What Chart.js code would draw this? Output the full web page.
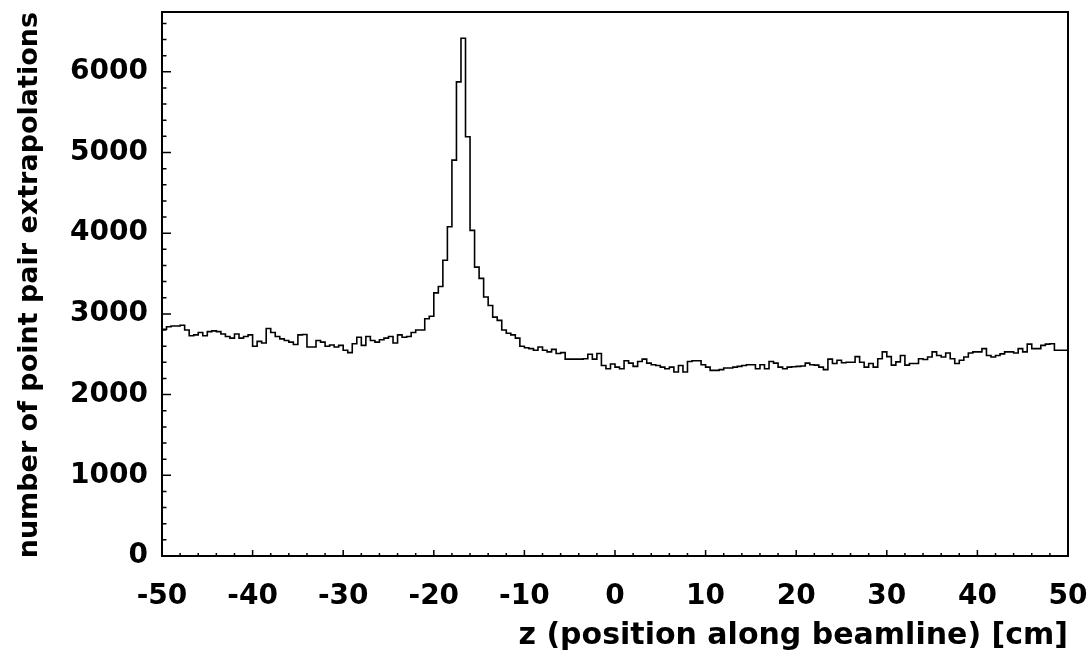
<!DOCTYPE html>
<html>
<head>
<meta charset="utf-8">
<script src="https://cdn.jsdelivr.net/npm/chart.js@4.4.1/dist/chart.umd.min.js"></script>
<style>
  html, body { margin: 0; padding: 0; background: #fff; }
  #wrap { width: 1089px; height: 654px; position: relative; }
</style>
</head>
<body>
<div id="wrap"><canvas id="histo"></canvas></div>
<script>
// z histogram, 200 bins of 0.5 cm from -50 to 50
var xMin = -50;
var xMax = 50;
var binWidth = 0.5;
var yMax = 6741;

var counts = [
    2810, 2840, 2850, 2850, 2860, 2800, 2730, 2740, 2770, 2730,
    2780, 2790, 2780, 2750, 2720, 2700, 2750, 2700, 2720, 2740,
    2600, 2660, 2640, 2820, 2770, 2720, 2690, 2670, 2650, 2620,
    2740, 2745, 2590, 2590, 2670, 2650, 2600, 2615, 2590, 2610,
    2550, 2520, 2630, 2710, 2610, 2720, 2670, 2650, 2680, 2700,
    2720, 2640, 2740, 2710, 2720, 2770, 2800, 2800, 2940, 2970,
    3260, 3340, 3665, 4080, 4905, 5875, 6415, 5195, 4035, 3580,
    3440, 3210, 3105, 2960, 2920, 2800, 2760, 2740, 2700, 2600,
    2580, 2570, 2550, 2590, 2550, 2530, 2560, 2510, 2520, 2440,
    2440, 2440, 2440, 2445, 2500, 2440, 2510, 2360, 2320, 2380,
    2340, 2320, 2420, 2390, 2350, 2410, 2440, 2390, 2370, 2360,
    2340, 2320, 2340, 2280, 2360, 2280, 2410, 2420, 2420, 2370,
    2340, 2300, 2300, 2310, 2330, 2330, 2340, 2350, 2360, 2370,
    2370, 2320, 2370, 2320, 2410, 2390, 2340, 2320, 2340, 2345,
    2350, 2355, 2390, 2370, 2365, 2340, 2310, 2440, 2385, 2425,
    2395, 2400, 2400, 2470, 2400, 2340, 2385, 2340, 2445, 2530,
    2470, 2365, 2405, 2485, 2365, 2385, 2385, 2445, 2435, 2465,
    2530, 2485, 2465, 2515, 2445, 2385, 2425, 2465, 2515, 2530,
    2530, 2570, 2485, 2465, 2485, 2505, 2530, 2530, 2515, 2570,
    2530, 2625, 2570, 2570, 2610, 2625, 2630, 2550, 2550, 2550
];

var xTicks = [-50, -40, -30, -20, -10, 0, 10, 20, 30, 40, 50];
var yTicks = [0, 1000, 2000, 3000, 4000, 5000, 6000];
var xMinorStep = 2;
var yMinorStep = 200;

var xTitle = 'z (position along beamline) [cm]';
var yTitle = 'number of point pair extrapolations';

// step outline: one point per lower bin edge, plus the last upper edge
var points = [];
for (var i = 0; i < counts.length; i++) {
    points.push({x: xMin + i * binWidth, y: counts[i]});
}
points.push({x: xMax, y: counts[counts.length - 1]});

var family = '"DejaVu Sans", sans-serif';
var tickFont = {family: family, weight: 'bold', size: 28};

// ROOT style frame with inside ticks
var frameTicks = {
    id: 'frameTicks',
    afterDatasetsDraw: function(chart) {
        var ctx = chart.ctx;
        var a = chart.chartArea;
        var sx = chart.scales.x;
        var sy = chart.scales.y;
        ctx.save();
        ctx.strokeStyle = '#000';
        ctx.lineWidth = 1.5;
        ctx.beginPath();
        for (var v = xMin; v <= xMax; v += xMinorStep) {
            var px = sx.getPixelForValue(v);
            var len = (xTicks.indexOf(v) >= 0) ? 6 : 3;
            ctx.moveTo(px, a.bottom);
            ctx.lineTo(px, a.bottom - len);
        }
        for (var w = 0; w <= yMax; w += yMinorStep) {
            var py = sy.getPixelForValue(w);
            var len2 = (yTicks.indexOf(w) >= 0) ? 9 : 4.5;
            ctx.moveTo(a.left, py);
            ctx.lineTo(a.left + len2, py);
        }
        ctx.stroke();
        ctx.lineWidth = 2;
        ctx.strokeRect(a.left, a.top, a.right - a.left, a.bottom - a.top);
        ctx.restore();
    }
};

var ctx = document.getElementById('histo');
var myChart = new Chart(ctx, {
    type: 'line',
    data: {
        datasets: [{
            data: points,
            stepped: 'before',  // flat across the bin, then jump at the next edge
            borderColor: '#000',
            borderWidth: 1.6,
            pointRadius: 0,
            fill: false,
        }]
    },
    options: {
        responsive: true,
        maintainAspectRatio: false,
        animation: false,
        layout: {padding: {left: 0, top: 12, right: 21, bottom: 0}},
        plugins: {legend: {display: false}, tooltip: {enabled: false}},
        scales: {
            x: {
                type: 'linear',
                min: xMin,
                max: xMax,
                grid: {display: false, drawTicks: false},
                border: {display: false},
                afterBuildTicks: function(scale) {
                    scale.ticks = xTicks.map(function(v) { return {value: v}; });
                },
                ticks: {
                    color: '#000',
                    font: tickFont,
                    padding: 24,
                    maxRotation: 0,
                    autoSkip: false,
                    callback: function(value) { return String(value); }
                },
                title: {
                    display: true,
                    text: xTitle,
                    align: 'end',
                    color: '#000',
                    font: {family: family, weight: 'bold', size: 30},
                    padding: {top: 3, bottom: 0},
                },
                afterFit: function(scale) {
                    scale.height = 98;
                    scale.paddingLeft = 0;
                    scale.paddingRight = 0;
                }
            },
            y: {
                min: 0,
                max: yMax,
                grid: {display: false, drawTicks: false},
                border: {display: false},
                afterBuildTicks: function(scale) {
                    scale.ticks = yTicks.map(function(v) { return {value: v}; });
                },
                ticks: {
                    color: '#000',
                    font: tickFont,
                    padding: 14,
                    callback: function(value) { return String(value); }
                },
                title: {
                    display: true,
                    text: yTitle,
                    align: 'end',
                    color: '#000',
                    font: {family: family, weight: 'bold', size: 27},
                    padding: {top: 14, bottom: 0},
                },
                afterFit: function(scale) {
                    scale.width = 162;
                    scale.paddingTop = 0;
                    scale.paddingBottom = 0;
                }
            }
        }
    },
    plugins: [frameTicks]
});
</script>
</body>
</html>
